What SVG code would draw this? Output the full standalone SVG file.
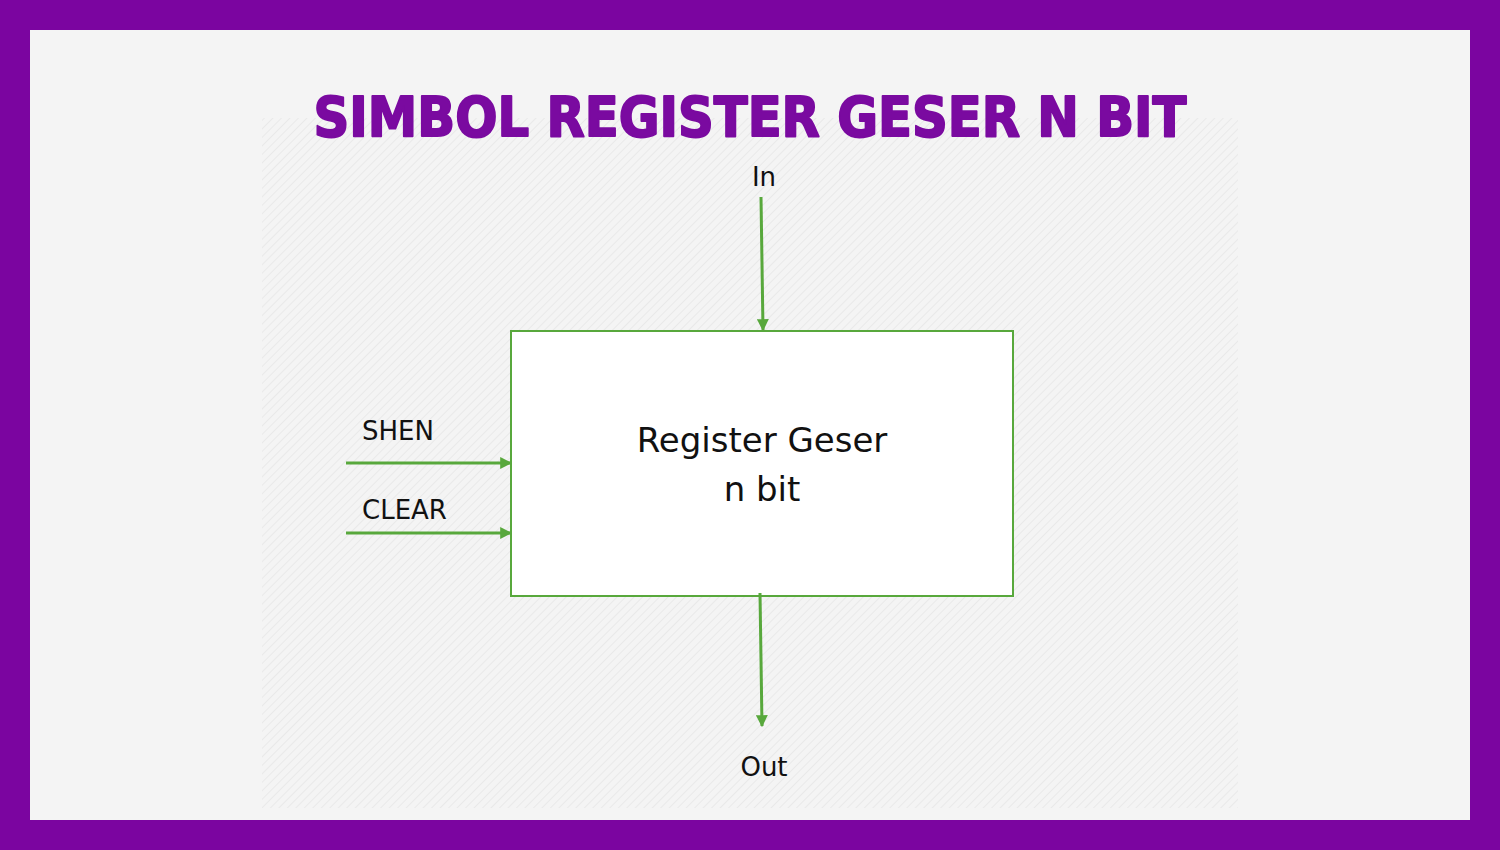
<svg xmlns="http://www.w3.org/2000/svg" width="1500" height="850" viewBox="0 0 1500 850">
<defs>
<pattern id="hatch" width="6" height="6" patternUnits="userSpaceOnUse" patternTransform="rotate(45)">
<rect width="6" height="6" fill="#f4f4f4"/>
<line x1="0" y1="0" x2="0" y2="6" stroke="#e9e9e9" stroke-width="2"/>
</pattern>
<marker id="arrow" viewBox="0 0 10 10" refX="9" refY="5" markerWidth="12" markerHeight="12" markerUnits="userSpaceOnUse" orient="auto">
<path d="M0,0 L10,5 L0,10 Z" fill="#58a83c"/>
</marker>
<style>
.lbl{font-family:"DejaVu Sans","Open Sans",sans-serif;fill:#111111;}
.wire{stroke:#58a83c;stroke-width:3;fill:none;}
.box{fill:#ffffff;stroke:#58a83c;stroke-width:2;}
.title{font-family:"DejaVu Sans",sans-serif;font-weight:bold;fill:#7a0aa0;stroke:#7a0aa0;stroke-width:2;stroke-linejoin:round;}
</style>
</defs>
<rect x="0" y="0" width="1500" height="850" fill="#7b05a0"/>
<rect x="30" y="30" width="1440" height="790" fill="#f4f4f4"/>
<rect x="262" y="118" width="976" height="690" fill="url(#hatch)"/>
<text class="title" x="750" y="136" font-size="56" text-anchor="middle" textLength="873" lengthAdjust="spacingAndGlyphs">SIMBOL REGISTER GESER N BIT</text>
<g id="register">
<rect class="box" x="511" y="331" width="502" height="265"/>
<text class="lbl" x="762" y="452" font-size="34" text-anchor="middle">Register Geser</text>
<text class="lbl" x="762" y="501" font-size="34" text-anchor="middle">n bit</text>
</g>
<g id="in"><text class="lbl" x="764" y="186" font-size="26" text-anchor="middle">In</text></g>
<g id="out"><text class="lbl" x="764" y="776" font-size="26" text-anchor="middle">Out</text></g>
<g id="shen"><text class="lbl" x="362" y="440" font-size="26">SHEN</text></g>
<g id="clear"><text class="lbl" x="362" y="519" font-size="26">CLEAR</text></g>
<g id="connectors">
<line class="wire" x1="761" y1="197" x2="763" y2="330" marker-end="url(#arrow)"/>
<line class="wire" x1="760" y1="593" x2="762" y2="726" marker-end="url(#arrow)"/>
<line class="wire" x1="346" y1="463" x2="511" y2="463" marker-end="url(#arrow)"/>
<line class="wire" x1="346" y1="533" x2="511" y2="533" marker-end="url(#arrow)"/>
</g>
</svg>
